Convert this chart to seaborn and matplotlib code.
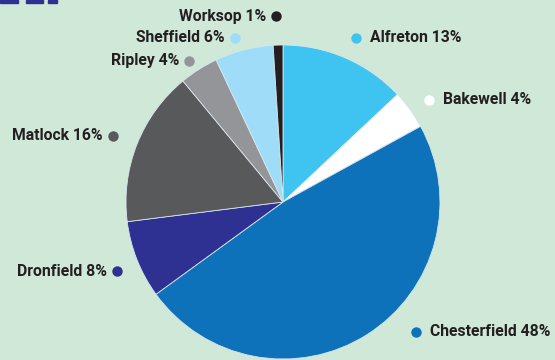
import matplotlib
matplotlib.use("Agg")
import matplotlib.pyplot as plt
import seaborn as sns

# Data
towns = ["Alfreton", "Bakewell", "Chesterfield", "Dronfield", "Matlock", "Ripley", "Sheffield", "Worksop"]
shares = [13, 4, 48, 8, 16, 4, 6, 1]
colors = ["#3fc4f1", "#ffffff", "#0e72bb", "#2e3192", "#58595b", "#939598", "#9fdcf8", "#231f20"]

# Label layout (pixel coords: x of dot, y, side of text)
label_layout = {
    "Alfreton": (356, 38, "right"),
    "Bakewell": (429, 100, "right"),
    "Chesterfield": (416, 332, "right"),
    "Dronfield": (117, 271, "left"),
    "Matlock": (113, 136, "left"),
    "Ripley": (189, 61, "left"),
    "Sheffield": (235, 38, "left"),
    "Worksop": (276, 16, "left"),
}

sns.set_theme(style="white")
plt.rcParams["font.family"] = ["Roboto", "DejaVu Sans"]

W, H = 555, 360
bg = "#cfe8d7"
fig = plt.figure(figsize=(W / 100, H / 100), dpi=100, facecolor=bg)
ax = fig.add_axes([0, 0, 1, 1])
ax.set_facecolor(bg)

ax.pie(shares, colors=colors, startangle=90, counterclock=False,
       center=(283, H - 202), radius=157,
       wedgeprops=dict(linewidth=0.6, edgecolor="#d8e6ee"))
ax.set_xlim(0, W)
ax.set_ylim(0, H)
ax.set_aspect("equal")
ax.axis("off")

for town, share, col in zip(towns, shares, colors):
    x, y, side = label_layout[town]
    yy = H - y
    ax.plot([x], [yy], marker="o", ms=7.5, color=col, mec="none", clip_on=False)
    label = f"{town} {share}%"
    if side == "right":
        ax.text(x + 14, yy, label, ha="left", va="center", fontsize=11.3,
                fontweight="bold", color="#231f20")
    else:
        ax.text(x - 10, yy, label, ha="right", va="center", fontsize=11.3,
                fontweight="bold", color="#231f20")

# cropped header marks at top-left
for x0, w in [(0, 18), (26, 17), (48, 9)]:
    fig.patches.append(plt.Rectangle((x0 / W, 1 - 3 / H), w / W, 3 / H,
                                     transform=fig.transFigure, color="#2e3192"))

fig.savefig("out.png", dpi=100, facecolor=bg)
